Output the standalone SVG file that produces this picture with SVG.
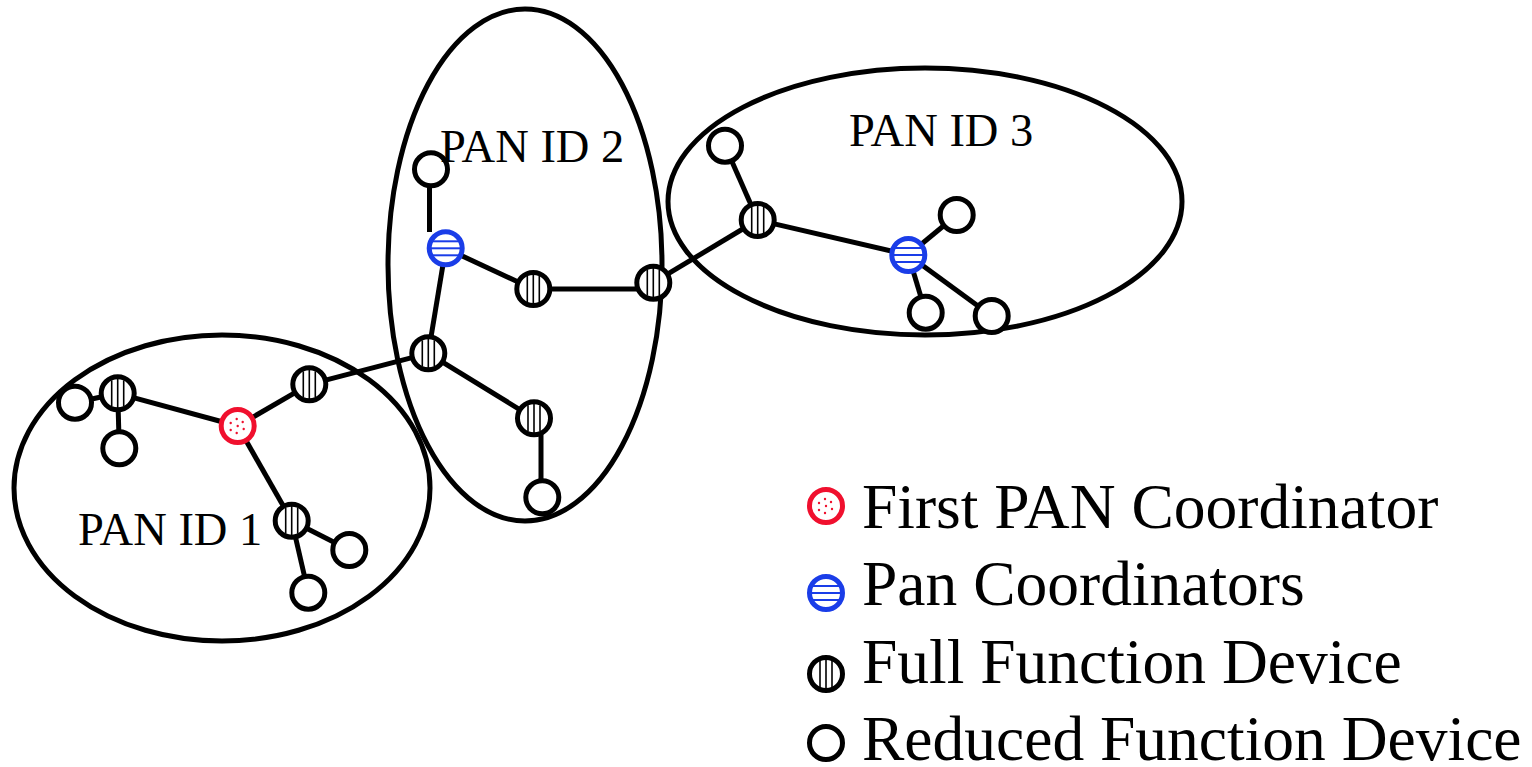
<svg xmlns="http://www.w3.org/2000/svg" xmlns:xlink="http://www.w3.org/1999/xlink" width="1532" height="767" viewBox="0 0 1532 767">
<style>
.area{fill:none;stroke:#000;stroke-width:5}
.edge{stroke:#000;stroke-width:5;fill:none;stroke-linecap:butt}
.ring{fill:none;stroke-width:5}
.lab{font-family:"Liberation Serif","Times New Roman",serif;fill:#000}
</style>
<defs>
<g id="rfd"><circle r="16.5" fill="#fff" stroke="#000" stroke-width="5"/></g>
<g id="ffd">
<circle r="16.5" fill="#fff"/>
<g stroke="#000" stroke-width="1.6"><line x1="-6" y1="-13" x2="-6" y2="13"/><line x1="0" y1="-15" x2="0" y2="15"/><line x1="6" y1="-13" x2="6" y2="13"/></g>
<circle r="16.5" class="ring" stroke="#000"/>
</g>
<g id="pan">
<circle r="16.5" fill="#fff"/>
<g stroke="#1a3de8" stroke-width="2"><line x1="-14" y1="-7" x2="14" y2="-7"/><line x1="-15" y1="0" x2="15" y2="0"/><line x1="-14" y1="7" x2="14" y2="7"/></g>
<circle r="16.5" class="ring" stroke="#1a3de8"/>
</g>
<g id="first">
<circle r="16.5" fill="#fff"/>
<g fill="#f0102e"><circle cx="-1" cy="-7" r="1.2"/><circle cx="-7" cy="-3" r="1.2"/><circle cx="5" cy="-4" r="1.2"/><circle cx="0" cy="0" r="1.2"/><circle cx="-7" cy="4" r="1.2"/><circle cx="6" cy="3" r="1.2"/><circle cx="-1" cy="7" r="1.2"/></g>
<circle r="16.5" class="ring" stroke="#f0102e"/>
</g>
</defs>

<g id="areas">
<ellipse class="area" cx="222" cy="488" rx="208" ry="153"/>
<ellipse class="area" cx="525" cy="265" rx="137" ry="256"/>
<ellipse class="area" cx="925" cy="201.5" rx="257" ry="133.5"/>
</g>

<g id="connectors">
<line class="edge" x1="237.7" y1="426" x2="117.7" y2="393.3"/>
<line class="edge" x1="117.7" y1="393.3" x2="75" y2="402.7"/>
<line class="edge" x1="117.7" y1="393.3" x2="119.3" y2="448.3"/>
<line class="edge" x1="237.7" y1="426" x2="309.3" y2="384.3"/>
<line class="edge" x1="309.3" y1="384.3" x2="428.3" y2="353.3"/>
<line class="edge" x1="237.7" y1="426" x2="291.7" y2="520.7"/>
<line class="edge" x1="291.7" y1="520.7" x2="349.3" y2="550"/>
<line class="edge" x1="291.7" y1="520.7" x2="308.3" y2="592.7"/>
<line class="edge" x1="428.3" y1="353.3" x2="445.7" y2="248.3"/>
<line class="edge" x1="429.5" y1="172" x2="429.5" y2="232"/>
<line class="edge" x1="445.7" y1="248.3" x2="533.3" y2="289"/>
<line class="edge" x1="533.3" y1="289" x2="653.3" y2="289"/>
<line class="edge" x1="653.3" y1="282.7" x2="757.7" y2="220"/>
<line class="edge" x1="428.3" y1="353.3" x2="534" y2="418.3"/>
<line class="edge" x1="541" y1="418.3" x2="541" y2="497.3"/>
<line class="edge" x1="757.7" y1="220" x2="725" y2="145.7"/>
<line class="edge" x1="757.7" y1="220" x2="908.3" y2="255"/>
<line class="edge" x1="908.3" y1="255" x2="956.7" y2="215"/>
<line class="edge" x1="908.3" y1="255" x2="925.7" y2="312.7"/>
<line class="edge" x1="908.3" y1="255" x2="991.7" y2="316"/>
</g>

<g id="n-first"><use xlink:href="#first" x="237.7" y="426"/></g>
<g id="n1a"><use xlink:href="#ffd" x="117.7" y="393.3"/></g>
<g id="n1b"><use xlink:href="#rfd" x="75" y="402.7"/></g>
<g id="n1c"><use xlink:href="#rfd" x="119.3" y="448.3"/></g>
<g id="n1d"><use xlink:href="#ffd" x="309.3" y="384.3"/></g>
<g id="n1e"><use xlink:href="#ffd" x="291.7" y="520.7"/></g>
<g id="n1f"><use xlink:href="#rfd" x="349.3" y="550"/></g>
<g id="n1g"><use xlink:href="#rfd" x="308.3" y="592.7"/></g>

<g id="n2a"><use xlink:href="#ffd" x="428.3" y="353.3"/></g>
<g id="n2-pan"><use xlink:href="#pan" x="445.7" y="248.3"/></g>
<g id="n2b"><use xlink:href="#rfd" x="431" y="169.3"/></g>
<g id="n2c"><use xlink:href="#ffd" x="533.3" y="289"/></g>
<g id="n2d"><use xlink:href="#ffd" x="653.3" y="282.7"/></g>
<g id="n2e"><use xlink:href="#ffd" x="534" y="418.3"/></g>
<g id="n2f"><use xlink:href="#rfd" x="542.3" y="497.3"/></g>

<g id="n3a"><use xlink:href="#ffd" x="757.7" y="220"/></g>
<g id="n3b"><use xlink:href="#rfd" x="725" y="145.7"/></g>
<g id="n3-pan"><use xlink:href="#pan" x="908.3" y="255"/></g>
<g id="n3c"><use xlink:href="#rfd" x="956.7" y="215"/></g>
<g id="n3d"><use xlink:href="#rfd" x="925.7" y="312.7"/></g>
<g id="n3e"><use xlink:href="#rfd" x="991.7" y="316"/></g>

<g id="area-labels" class="lab" font-size="46.5">
<text x="78" y="545">PAN ID 1</text>
<text x="440" y="162">PAN ID 2</text>
<text x="849" y="146">PAN ID 3</text>
</g>

<g id="legend">
<use xlink:href="#first" x="826" y="506"/>
<use xlink:href="#pan" x="826" y="593"/>
<use xlink:href="#ffd" x="826" y="674"/>
<use xlink:href="#rfd" x="826" y="743"/>
<g class="lab" font-size="63.5">
<text x="862" y="528">First PAN Coordinator</text>
<text x="862" y="605">Pan Coordinators</text>
<text x="862" y="683">Full Function Device</text>
<text x="862" y="760">Reduced Function Device</text>
</g>
</g>
</svg>
